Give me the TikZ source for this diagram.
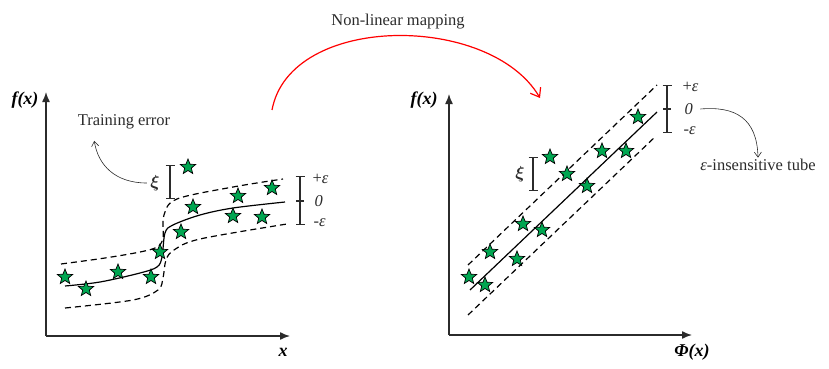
\documentclass[tikz,border=0pt]{standalone}
\usepackage{amsmath}
\usepackage{fontspec}
\setmainfont{Liberation Serif}
\usepackage{xcolor}
\usepackage{tikz}
\usetikzlibrary{arrows.meta, positioning, shapes.geometric}
\definecolor{stargreen}{HTML}{00A651}
\definecolor{axisgray}{HTML}{2B2B2B}
\tikzset{
  starpt/.style={star, star points=5, star point ratio=2.3, draw=black, fill=stargreen,
    line width=0.7pt, minimum size=16pt, inner sep=0pt},
  axisline/.style={axisgray, line width=1.4pt, -{Latex[length=10pt,width=8pt]}},
  fitline/.style={black, line width=1.2pt},
  tubeline/.style={black, line width=1.2pt, dash pattern=on 6pt off 4pt},
  errbar/.style={axisgray, line width=1.1pt, {Bar[width=9pt]}-{Bar[width=9pt]}},
  lbl/.style={font=\fontsize{16.5}{19}\selectfont, text=axisgray},
  axlbl/.style={font=\fontsize{18}{20}\selectfont\bfseries\itshape, text=black},
  note/.style={axisgray, line width=0.6pt, -{Straight Barb[length=5pt,width=7pt]}}
}
\begin{document}
\begin{tikzpicture}[x=1pt,y=-1pt]
\useasboundingbox (0,0) rectangle (829,369);
% left panel
\coordinate (lo) at (46,336);
\coordinate (ly) at (46,92);
\coordinate (lx) at (290,336);
\draw[axisline] (lo) -- (ly);
\draw[axisline] (lo) -- (lx);
\node[axlbl] (lfx) at (25,100) {f(x)};
\node[axlbl] (lxl) at (283,352) {x};
% tube round the sigmoid fit
\draw[fitline] plot[smooth, tension=0.55] coordinates {(65,286) (100,282) (140,273) (157,267) (162,257) (165,233) (173,225) (200,215) (233,208) (285,202)};
\draw[tubeline] plot[smooth, tension=0.55] coordinates {(61,264) (105,258) (140,252) (157,247) (163,238) (164,215) (177,199) (233,187) (283,179)};
\draw[tubeline] plot[smooth, tension=0.55] coordinates {(65,308) (133,300) (158,290) (163,278) (166,260) (174,250) (200,239) (287,224)};
\foreach \p [count=\i] in {(65,277),(86,289),(118,272),(151,277),(160,252),(181,232),(193,207),(188,167),(238,196),(233,216),(262,217),(272,188)}
  \node[starpt] (ls\i) at \p {};
% epsilon bar, left
\coordinate (lbt) at (300,176);
\coordinate (lbb) at (300,225);
\draw[errbar] (lbt) -- (lbb);
\draw[axisgray, line width=1.1pt] (296,201) -- (304,201);
\node[lbl, anchor=west] (lpe) at (309,179) {+\textit{ε}};
\node[lbl, anchor=west] (lze) at (311,201) {\textit{0}};
\node[lbl, anchor=west] (lme) at (310,223) {-\textit{ε}};
% xi bar, left
\coordinate (lxt) at (170,165);
\coordinate (lxb) at (170,199);
\draw[errbar] (lxt) -- (lxb);
\node[lbl, font=\LARGE] (lxi) at (155,183) {$\boldsymbol{\xi}$};
\node[lbl] (terr) at (124,122) {Training error};
\draw[note] (lxi.west) .. controls (115,183) and (98,165) .. ([xshift=20pt,yshift=-8pt]terr.south west);
% mapping arrow
\node[lbl] (map) at (398,22) {Non-linear mapping};
\coordinate (mapA) at (272,110);
\coordinate (mapB) at (540,98);
\draw[red, line width=1.2pt, -{Straight Barb[length=8pt,width=12pt]}] (mapA) .. controls (290,13) and (490,13) .. (mapB);
% right panel
\coordinate (ro) at (449,335);
\coordinate (ry) at (449,94);
\coordinate (rx) at (692,335);
\draw[axisline] (ro) -- (ry);
\draw[axisline] (ro) -- (rx);
\node[axlbl] (rfx) at (424,100) {f(x)};
\node[axlbl] (rxl) at (692,352) {Φ(x)};
\coordinate (rs0) at (470,290);
\coordinate (rs1) at (657,112);
\coordinate (ru0) at (468,265);
\coordinate (ru1) at (657,85);
\coordinate (rl0) at (468,315);
\coordinate (rl1) at (656,136);
\draw[fitline] (rs0) -- (rs1);
\draw[tubeline] (ru0) -- (ru1);
\draw[tubeline] (rl0) -- (rl1);
\foreach \p [count=\i] in {(469,277),(485,285),(490,252),(517,259),(523,224),(542,230),(550,157),(567,174),(587,186),(602,151),(626,151),(638,117)}
  \node[starpt] (rs\i) at \p {};
% epsilon bar, right
\coordinate (rbt) at (667,85);
\coordinate (rbb) at (667,133);
\draw[errbar] (rbt) -- (rbb);
\draw[axisgray, line width=1.1pt] (663,109) -- (671,109);
\node[lbl, anchor=west] (rpe) at (679,87) {+\textit{ε}};
\node[lbl, anchor=west] (rze) at (681,109) {\textit{0}};
\node[lbl, anchor=west] (rme) at (680,131) {-\textit{ε}};
\node[lbl] (tube) at (758,165) {\textit{ε}-insensitive tube};
\draw[note] ([xshift=4pt]rze.east) .. controls (735,106) and (757,118) .. ([yshift=-2pt]tube.north);
% xi bar, right
\coordinate (rxt) at (533,157);
\coordinate (rxb) at (533,191);
\draw[errbar] (rxt) -- (rxb);
\node[lbl, font=\LARGE] (rxi) at (520,174) {$\boldsymbol{\xi}$};
\end{tikzpicture}
\end{document}
